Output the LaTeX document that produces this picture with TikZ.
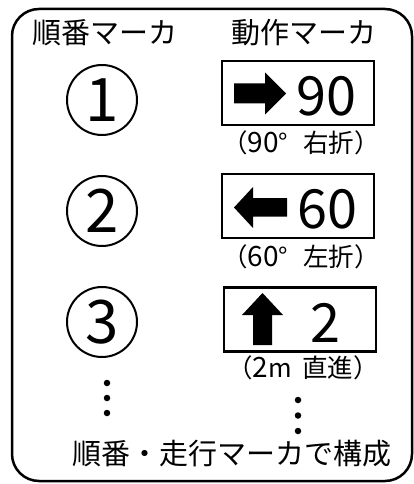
\documentclass[tikz,border=0pt]{standalone}
\usepackage{fontspec}
\setmainfont{Noto Sans CJK JP}
\newcommand{\capdig}[1]{{\fontsize{28}{30}\selectfont #1}}
\begin{document}
\begin{tikzpicture}[x=1pt,y=-1pt,
  hdr/.style={inner sep=0pt, anchor=base, font=\fontsize{29}{31}\selectfont},
  captxt/.style={inner sep=0pt, anchor=base, font=\fontsize{25.5}{27}\selectfont},
  num/.style={inner sep=0pt, anchor=base, font=\fontsize{54}{56}\selectfont},
  cnum/.style={circle, draw, line width=2pt, minimum size=70pt, inner sep=0pt, font=\fontsize{60}{62}\selectfont},
  markbox/.style={draw, line width=2.5pt, minimum width=152pt, minimum height=64pt, inner sep=0pt},
  dotmark/.style={circle, fill, inner sep=0pt, minimum size=6.5pt},
  frame/.style={draw, line width=2.5pt, rounded corners=27pt}]
\useasboundingbox (0,0) rectangle (414,484);
\draw[frame] (12,9) rectangle (412,481);
% headers
\node[hdr] (h1) at (105,44) {順番マーカ};
\node[hdr] (h2) at (304,44) {動作マーカ};
% circled numbers
\node[cnum] (c1) at (102,100) {1};
\node[cnum] (c2) at (102,211) {2};
\node[cnum] (c3) at (102,322) {3};
% boxes
\node[markbox] (b1) at (298,93) {};
\node[markbox] (b2) at (298,206) {};
\node[markbox] (b3) at (300,319.5) {};
% arrows
\fill (234,83.5) -- (265,83.5) -- (265,72.5) -- (286,93.5) -- (265,114.5) -- (265,103.5) -- (234,103.5) -- cycle;
\fill (287,198) -- (253,198) -- (253,187) -- (234,207.5) -- (253,228) -- (253,216.5) -- (287,216.5) -- cycle;
\fill (253,345) -- (253,315) -- (242,315) -- (262.5,293) -- (283,315) -- (272,315) -- (272,345) -- cycle;
% numbers
\node[num] (n1) at (326,115) {90};
\node[num] (n2) at (327,228) {60};
\node[num] (n3) at (325,342) {2};
% captions
\node[captxt] (t1) at (301,152) {（\capdig{90}°\hspace{15pt}右折）};
\node[captxt] (t2) at (301,266) {（\capdig{60}°\hspace{15pt}左折）};
\node[captxt] (t3) at (303,377) {（\capdig{2}m\hspace{10pt}直進）};
% dots
\node[dotmark] (l1) at (107,383) {};
\node[dotmark] (l2) at (107,398) {};
\node[dotmark] (l3) at (107,413) {};
\node[dotmark] (r1) at (298,400) {};
\node[dotmark] (r2) at (298,415.5) {};
\node[dotmark] (r3) at (298,431) {};
% bottom text
\node[hdr] (bt) at (232,464) {順番・走行マーカで構成};
\end{tikzpicture}
\end{document}
